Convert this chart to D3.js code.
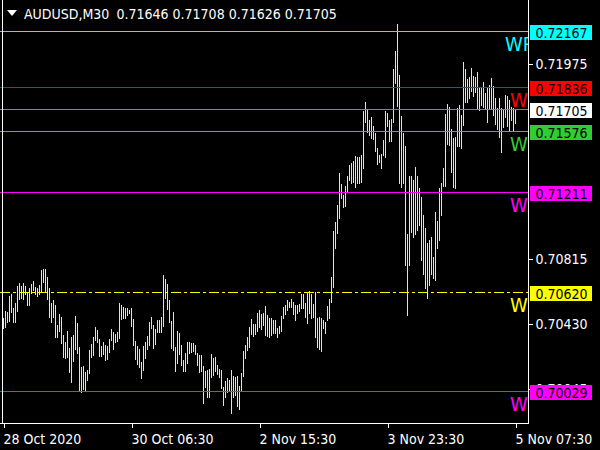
<!DOCTYPE html>
<html><head><meta charset="utf-8">
<script src="https://cdn.jsdelivr.net/npm/d3@7"></script>
<style>
html,body{margin:0;padding:0;background:#000;}
svg{display:block;}
text{font-family:"DejaVu Sans Condensed","DejaVu Sans",sans-serif;font-stretch:condensed;}
</style></head><body>
<svg id="c" width="600" height="450"></svg>
<script>
// ---------------- data ----------------
const symbol = "AUDUSD,M30";
const lastOHLC = [0.71646, 0.71708, 0.71626, 0.71705];

const highs = [
0.70468,0.70508,0.70500,0.70597,0.70609,0.70527,0.70555,0.70654,0.70674,0.70654,
0.70674,0.70658,0.70616,0.70642,0.70668,0.70686,0.70652,0.70642,0.70662,0.70753,
0.70757,0.70757,0.70710,0.70642,0.70553,0.70573,0.70543,0.70425,0.70490,0.70472,
0.70365,0.70322,0.70389,0.70286,0.70355,0.70365,0.70478,0.70436,0.70296,0.70177,
0.70179,0.70143,0.70157,0.70276,0.70312,0.70355,0.70413,0.70395,0.70341,0.70302,
0.70322,0.70306,0.70302,0.70340,0.70401,0.70381,0.70371,0.70381,0.70553,0.70543,
0.70531,0.70524,0.70524,0.70512,0.70524,0.70460,0.70331,0.70302,0.70282,0.70203,
0.70302,0.70322,0.70359,0.70441,0.70472,0.70425,0.70401,0.70454,0.70454,0.70472,
0.70722,0.70698,0.70668,0.70573,0.70450,0.70503,0.70296,0.70389,0.70375,0.70306,
0.70217,0.70256,0.70322,0.70322,0.70316,0.70316,0.70306,0.70256,0.70246,0.70246,
0.70181,0.70153,0.70157,0.70161,0.70252,0.70228,0.70233,0.70187,0.70165,0.70157,
0.70058,0.70094,0.70108,0.70098,0.70157,0.70122,0.70117,0.70122,0.70062,0.70141,
0.70270,0.70306,0.70351,0.70411,0.70460,0.70430,0.70430,0.70498,0.70514,0.70490,
0.70498,0.70537,0.70484,0.70464,0.70464,0.70454,0.70454,0.70405,0.70419,0.70478,
0.70533,0.70543,0.70573,0.70563,0.70577,0.70563,0.70543,0.70543,0.70549,0.70609,
0.70609,0.70557,0.70615,0.70628,0.70609,0.70549,0.70622,0.70466,0.70474,0.70466,
0.70454,0.70444,0.70537,0.70579,0.70711,0.70985,0.71038,0.71137,0.71327,0.71262,
0.71197,0.71250,0.71310,0.71375,0.71389,0.71400,0.71428,0.71424,0.71420,0.71434,
0.71697,0.71751,0.71702,0.71642,0.71662,0.71607,0.71567,0.71478,0.71434,0.71438,
0.71523,0.71696,0.71686,0.71642,0.71648,0.71945,0.72052,0.72212,0.71910,0.71666,
0.71565,0.71488,0.70965,0.71310,0.71310,0.71286,0.71365,0.71310,0.71237,0.71187,
0.71078,0.70999,0.70910,0.70929,0.70949,0.70830,0.71097,0.71044,0.71237,0.71266,
0.71355,0.71676,0.71735,0.71721,0.71589,0.71537,0.71543,0.71712,0.71731,0.71672,
0.71985,0.71945,0.71886,0.71899,0.71949,0.71905,0.71899,0.71929,0.71840,0.71830,
0.71870,0.71801,0.71840,0.71850,0.71890,0.71846,0.71771,0.71712,0.71771,0.71712,
0.71702,0.71791,0.71785,0.71761,0.71719,0.71714,0.71708
];
const lows = [
0.70405,0.70414,0.70444,0.70450,0.70503,0.70444,0.70444,0.70508,0.70579,0.70583,
0.70579,0.70607,0.70543,0.70543,0.70613,0.70632,0.70607,0.70597,0.70607,0.70628,
0.70678,0.70622,0.70577,0.70474,0.70444,0.70474,0.70355,0.70355,0.70389,0.70316,
0.70236,0.70227,0.70236,0.70147,0.70088,0.70212,0.70280,0.70260,0.70032,0.70025,
0.70044,0.70038,0.70098,0.70138,0.70233,0.70246,0.70335,0.70325,0.70242,0.70242,
0.70251,0.70217,0.70223,0.70266,0.70335,0.70282,0.70322,0.70330,0.70349,0.70460,
0.70468,0.70464,0.70484,0.70494,0.70420,0.70306,0.70223,0.70193,0.70177,0.70108,
0.70157,0.70227,0.70282,0.70306,0.70409,0.70290,0.70310,0.70385,0.70381,0.70381,
0.70420,0.70583,0.70520,0.70444,0.70290,0.70276,0.70151,0.70197,0.70251,0.70187,
0.70151,0.70151,0.70197,0.70256,0.70262,0.70270,0.70251,0.70187,0.70147,0.70151,
0.69963,0.70058,0.69995,0.69995,0.70117,0.70127,0.70153,0.70133,0.70117,0.70048,
0.69949,0.69995,0.70028,0.70034,0.69904,0.69999,0.70009,0.69943,0.69927,0.70038,
0.70122,0.70230,0.70276,0.70292,0.70371,0.70359,0.70371,0.70391,0.70414,0.70401,
0.70425,0.70365,0.70359,0.70355,0.70365,0.70375,0.70379,0.70355,0.70375,0.70391,
0.70464,0.70490,0.70514,0.70530,0.70530,0.70490,0.70454,0.70494,0.70509,0.70524,
0.70524,0.70474,0.70436,0.70498,0.70466,0.70472,0.70355,0.70294,0.70282,0.70272,
0.70407,0.70377,0.70454,0.70466,0.70563,0.70652,0.70884,0.70971,0.71062,0.71179,
0.71125,0.71131,0.71216,0.71286,0.71270,0.71276,0.71244,0.71266,0.71270,0.71276,
0.71355,0.71632,0.71573,0.71553,0.71534,0.71529,0.71460,0.71379,0.71391,0.71359,
0.71434,0.71424,0.71607,0.71519,0.71519,0.71632,0.71864,0.71725,0.71270,0.71246,
0.71266,0.70781,0.70484,0.70781,0.70979,0.70949,0.70963,0.70989,0.71019,0.70811,
0.70726,0.70642,0.70587,0.70662,0.70726,0.70705,0.70692,0.70884,0.70929,0.71078,
0.71252,0.71252,0.71498,0.71494,0.71335,0.71246,0.71240,0.71490,0.71490,0.71478,
0.71613,0.71751,0.71751,0.71771,0.71815,0.71787,0.71810,0.71715,0.71702,0.71731,
0.71721,0.71712,0.71632,0.71712,0.71715,0.71672,0.71617,0.71589,0.71543,0.71450,
0.71602,0.71662,0.71607,0.71583,0.71642,0.71583,0.71626
];

const timeTickIndex  = [0, 64, 128, 192, 256];
const timeTickLabels = ["28 Oct 2020", "30 Oct 06:30", "2 Nov 15:30", "3 Nov 23:30", "5 Nov 07:30"];
const priceTicks = [0.71975, 0.70815, 0.70430, 0.70045];

const levelValues = [0.72167, 0.71836, 0.71576, 0.71211, 0.70620, 0.70029];
const levelColors = ["#00FFFF", "#FF0000", "#32CD32", "#FF00FF", "#FFFF00", "#FF00FF"];
const levelNames  = ["WP", "W", "W", "W", "W", "W"];
const bidPrice = 0.71705;

// ---------------- drawing ----------------
const svg = d3.select("#c");
const plotRight = 528, plotBottom = 424;
const n = Math.min(highs.length, lows.length);

const x = d3.scaleLinear().domain([0, 256]).range([3.5, 515.5]);
const y = d3.scaleLinear().domain([0.69836, 0.72355]).range([plotBottom, 0]);
const crisp = v => Math.floor(v) + 0.5;
const fmt = d3.format(".5f");

svg.append("rect").attr("width", 600).attr("height", 450).attr("fill", "#000");

svg.append("defs").append("clipPath").attr("id", "plotClip")
  .append("rect").attr("x", 0).attr("y", 0).attr("width", plotRight).attr("height", plotBottom);

const plot = svg.append("g").attr("clip-path", "url(#plotClip)");

// bars (high-low)
plot.append("g").selectAll("line").data(d3.range(n)).join("line")
  .attr("x1", i => x(i)).attr("x2", i => x(i))
  .attr("y1", i => Math.round(y(highs[i])))
  .attr("y2", i => Math.round(y(lows[i])) + 1)
  .attr("stroke", "#FFFF00").attr("stroke-width", 1)
  .attr("shape-rendering", "crispEdges");

// level lines
levelValues.forEach((v, k) => {
  plot.append("line")
    .attr("x1", 0).attr("x2", plotRight)
    .attr("y1", crisp(y(v))).attr("y2", crisp(y(v)))
    .attr("stroke", levelColors[k]).attr("stroke-width", 1)
    .attr("stroke-dasharray", k === 4 ? "10,3,3,3" : null)
    .attr("shape-rendering", "crispEdges");
  plot.append("text")
    .attr("x", k === 0 ? 505 : 510)
    .attr("y", crisp(y(v)) + 19)
    .attr("fill", levelColors[k])
    .attr("font-size", 20)
    .text(levelNames[k]);
});

// bid line
plot.append("line")
  .attr("x1", 0).attr("x2", plotRight)
  .attr("y1", crisp(y(bidPrice))).attr("y2", crisp(y(bidPrice)))
  .attr("stroke", "#778899").attr("stroke-width", 1)
  .attr("shape-rendering", "crispEdges");

// left edge line
svg.append("line").attr("x1", 2.5).attr("x2", 2.5).attr("y1", 0).attr("y2", plotBottom)
  .attr("stroke", "#fff").attr("shape-rendering", "crispEdges");

// right price axis
const yAxis = svg.append("g").attr("transform", `translate(${plotRight + 0.5},0)`)
  .call(d3.axisRight(y).tickValues(priceTicks).tickSize(4).tickSizeOuter(0).tickFormat(fmt));
yAxis.select(".domain").remove();
yAxis.selectAll("line").attr("stroke", "#fff").attr("shape-rendering", "crispEdges");
yAxis.selectAll("text").attr("fill", "#fff").attr("font-size", 14).attr("x", 7)
  .style("font-family", '"DejaVu Sans Condensed","DejaVu Sans",sans-serif');
svg.append("line").attr("x1", plotRight + 0.5).attr("x2", plotRight + 0.5)
  .attr("y1", 0).attr("y2", plotBottom).attr("stroke", "#fff").attr("shape-rendering", "crispEdges");

// bottom time axis
const xAxis = svg.append("g").attr("transform", `translate(0,${plotBottom - 0.5})`)
  .call(d3.axisBottom(x).tickValues(timeTickIndex).tickSize(4).tickSizeOuter(0)
    .tickFormat((d, i) => timeTickLabels[i]));
xAxis.select(".domain").remove();
xAxis.selectAll("line").attr("stroke", "#fff").attr("shape-rendering", "crispEdges");
xAxis.selectAll("text").attr("fill", "#fff").attr("font-size", 14)
  .attr("text-anchor", "start").attr("y", 20).attr("dy", 0).attr("x", -0.5)
  .style("font-family", '"DejaVu Sans Condensed","DejaVu Sans",sans-serif');
svg.append("line").attr("x1", 0).attr("x2", plotRight + 1)
  .attr("y1", plotBottom - 0.5).attr("y2", plotBottom - 0.5)
  .attr("stroke", "#fff").attr("shape-rendering", "crispEdges");

// price label boxes
function priceBox(v, fill) {
  const top = Math.floor(y(v)) - 6;
  svg.append("rect").attr("x", 530).attr("y", top).attr("width", 62).attr("height", 15)
    .attr("fill", fill);
  svg.append("text").attr("x", 535.5).attr("y", top + 12.5).attr("fill", "#000")
    .attr("font-size", 14).text(fmt(v));
}
levelValues.forEach((v, k) => priceBox(v, levelColors[k]));
priceBox(bidPrice, "#FFFFFF");

// header
svg.append("path").attr("d", "M7,10 L17,10 L12,16 Z").attr("fill", "#fff");
svg.append("text").attr("x", 24).attr("y", 18.5).attr("fill", "#fff").attr("font-size", 14).text(symbol);
svg.append("text").attr("x", 116.5).attr("y", 18.5).attr("fill", "#fff").attr("font-size", 14)
  .text(lastOHLC.map(fmt).join(" "));
</script>
</body></html>
